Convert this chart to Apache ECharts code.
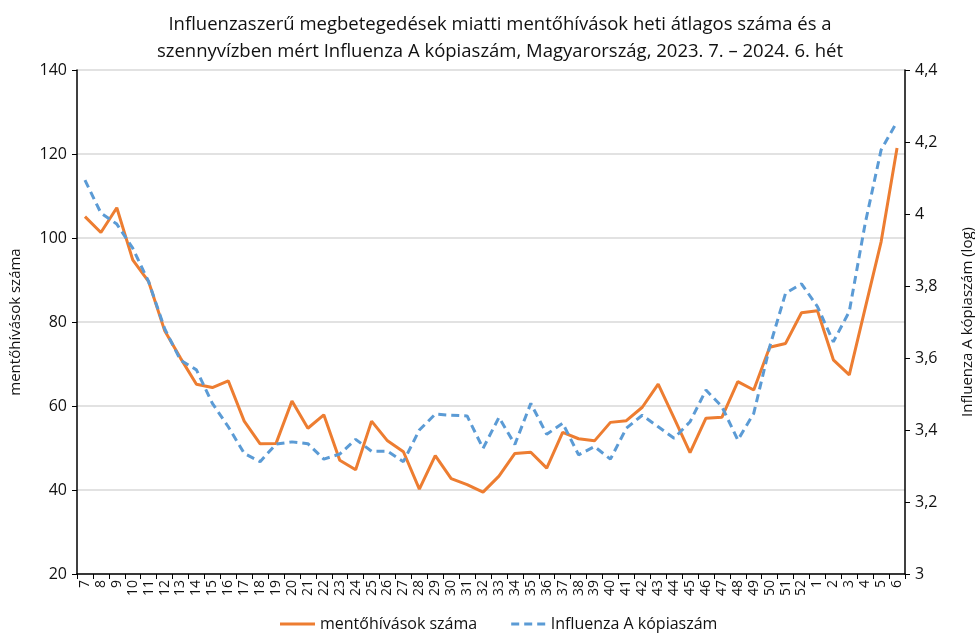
<!DOCTYPE html>
<html>
<head>
<meta charset="utf-8">
<script src="https://cdn.jsdelivr.net/npm/echarts@6/dist/echarts.min.js"></script>
<style>
  html, body { margin: 0; padding: 0; background: #fff; }
  #chart { width: 975px; height: 637px; }
</style>
</head>
<body>
<div id="chart"></div>
<script>
// hetek: 2023. 7. – 2024. 6.
var weeks = ['7','8','9','10','11','12','13','14','15','16','17','18','19','20','21','22','23','24','25','26',
  '27','28','29','30','31','32','33','34','35','36','37','38','39','40','41','42','43','44','45','46',
  '47','48','49','50','51','52','1','2','3','4','5','6']

// mentőhívások heti átlagos száma (bal tengely)
var calls = [105.1, 101.3, 107.2, 94.8, 89.6, 78.0, 71.4, 65.2, 64.4, 66.0,
  56.4, 51.0, 51.1, 61.2, 54.7, 57.9, 47.1, 44.8, 56.4, 51.7,
  49.1, 40.2, 48.2, 42.7, 41.3, 39.5, 43.3, 48.7, 49.0, 45.2,
  53.7, 52.2, 51.7, 56.1, 56.5, 59.7, 65.2, 57.1, 48.9, 57.1,
  57.3, 65.8, 63.8, 74.0, 74.9, 82.2, 82.7, 71.0, 67.4, 83.3,
  99.1, 121.4]

// Influenza A kópiaszám, log (jobb tengely)
var fluA = [4.094, 4.003, 3.972, 3.905, 3.812, 3.682, 3.594, 3.567, 3.474, 3.409,
  3.335, 3.312, 3.361, 3.367, 3.362, 3.319, 3.333, 3.374, 3.341, 3.341,
  3.312, 3.400, 3.444, 3.441, 3.439, 3.349, 3.435, 3.360, 3.474, 3.388,
  3.419, 3.331, 3.354, 3.319, 3.405, 3.441, 3.409, 3.377, 3.423, 3.511,
  3.465, 3.372, 3.446, 3.631, 3.780, 3.806, 3.743, 3.645, 3.729, 3.974,
  4.178, 4.256]

var leftTicks = { min: 20, max: 140, interval: 20 }
var rightTicks = { min: 3, max: 4.4, interval: 0.2 }

var font = 'Open Sans'
var txt = '#111'
var chart = echarts.init(document.getElementById('chart'))

var option = {
  backgroundColor: '#fff',
  animation: false,
  title: {
    text: 'Influenzaszerű megbetegedések miatti mentőhívások heti átlagos száma és a\nszennyvízben mért Influenza A kópiaszám, Magyarország, 2023. 7. – 2024. 6. hét',
    left: 495,
    textAlign: 'center',
    top: 6,
    textStyle: { fontFamily: font, fontSize: 18.5, fontWeight: 'normal', color: txt, lineHeight: 27 }
  },
  legend: {
    bottom: 0,
    left: 275,
    itemWidth: 35,
    itemHeight: 3,
    itemGap: 34,
    textStyle: { fontFamily: font, fontSize: 16, color: txt },
    data: [
      { name: 'mentőhívások száma', icon: 'rect' },
      { name: 'Influenza A kópiaszám', icon: 'path://M0,0h8v3h-8z M13,0h8v3h-8z M26,0h8v3h-8z' }
    ]
  },
  grid: { left: 77, right: 70, top: 70, bottom: 63, outerBoundsMode: 'none' },
  xAxis: {
    type: 'category',
    data: weeks,
    boundaryGap: true,
    axisLine: { lineStyle: { color: '#000', width: 1.5 } },
    axisTick: { show: true, length: 5, lineStyle: { color: '#000' } },
    axisLabel: { rotate: 90, interval: 0, fontFamily: font, fontSize: 14, color: txt, margin: 6 }
  },
  yAxis: [
    {
      type: 'value',
      min: leftTicks.min, max: leftTicks.max, interval: leftTicks.interval,
      name: 'mentőhívások száma',
      nameLocation: 'middle',
      nameGap: 54,
      nameTextStyle: { fontFamily: font, fontSize: 15, color: txt },
      axisLine: { show: true, lineStyle: { color: '#000', width: 1.5 } },
      axisTick: { show: true, length: 5, lineStyle: { color: '#000' } },
      axisLabel: { fontFamily: font, fontSize: 16, color: txt, margin: 10 },
      splitLine: { lineStyle: { color: '#d9d9d9', width: 1.5 } }
    },
    {
      type: 'value',
      min: rightTicks.min, max: rightTicks.max, interval: rightTicks.interval,
      name: 'Influenza A kópiaszám (log)',
      nameLocation: 'middle',
      nameGap: 55,
      nameRotate: 90,
      nameTextStyle: { fontFamily: font, fontSize: 15, color: txt },
      axisLine: { show: true, lineStyle: { color: '#000', width: 1.5 } },
      axisTick: { show: true, length: 5, lineStyle: { color: '#000' } },
      axisLabel: {
        fontFamily: font, fontSize: 16, color: txt, margin: 10,
        formatter: function (v) { return String(+v.toFixed(1)).replace('.', ',') }
      },
      splitLine: { show: false }
    }
  ],
  series: [
    {
      name: 'mentőhívások száma',
      type: 'line',
      data: calls,
      yAxisIndex: 0,
      symbol: 'none',
      color: '#ED7D31',
      lineStyle: { color: '#ED7D31', width: 3 }
    },
    {
      name: 'Influenza A kópiaszám',
      type: 'line',
      data: fluA,
      yAxisIndex: 1,
      symbol: 'none',
      color: '#5B9BD5',
      lineStyle: { color: '#5B9BD5', width: 3, type: [8, 5] }
    }
  ]
}

chart.setOption(option)
</script>
</body>
</html>
